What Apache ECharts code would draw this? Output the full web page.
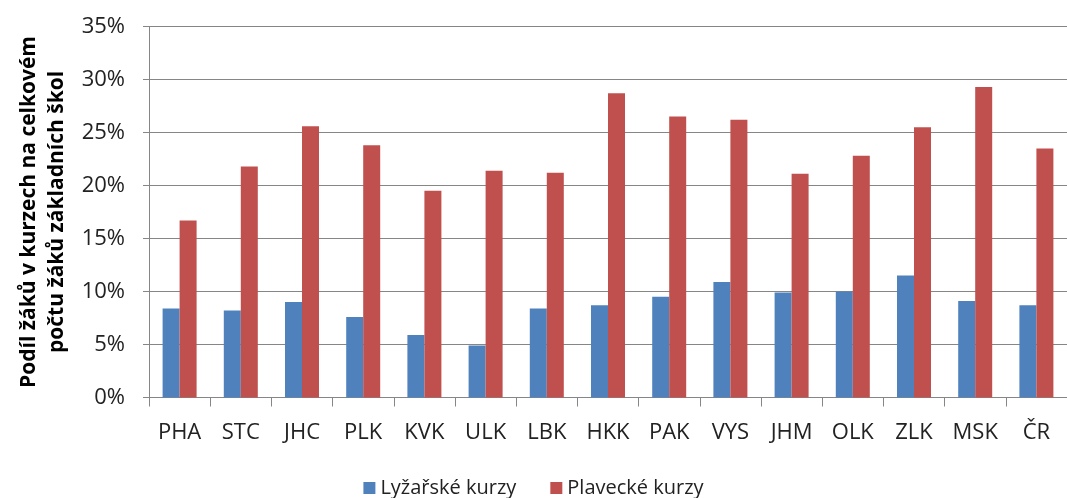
<!DOCTYPE html>
<html>
<head>
<meta charset="utf-8">
<script src="https://cdn.jsdelivr.net/npm/echarts@6/dist/echarts.min.js"></script>
<style>
  html, body { margin: 0; padding: 0; background: #fff; }
  #chart { width: 1067px; height: 498px; }
</style>
</head>
<body>
<div id="chart"></div>
<script>
// kraje + ČR
const regions = ['PHA', 'STC', 'JHC', 'PLK', 'KVK', 'ULK', 'LBK', 'HKK', 'PAK', 'VYS', 'JHM', 'OLK', 'ZLK', 'MSK', 'ČR'];
// podíl žáků v %
const skiCourses = [8.4, 8.2, 9.0, 7.6, 5.9, 4.9, 8.4, 8.7, 9.5, 10.9, 9.9, 10.0, 11.5, 9.1, 8.7];
const swimCourses = [16.7, 21.8, 25.6, 23.8, 19.5, 21.4, 21.2, 28.7, 26.5, 26.2, 21.1, 22.8, 25.5, 29.3, 23.5];
const yTicks = [0, 5, 10, 15, 20, 25, 30, 35];

const font = 'Open Sans';
const gray = '#868686';

const chart = echarts.init(document.getElementById('chart'));
chart.setOption({
  animation: false,
  textStyle: { fontFamily: font },
  grid: { left: 149, top: 26.5, width: 928, height: 371 },
  legend: {
    bottom: -5,
    left: 'center',
    itemWidth: 12,
    itemHeight: 12,
    itemGap: 34,
    icon: 'rect',
    textStyle: { fontSize: 20, color: '#222', fontFamily: font },
    data: ['Lyžařské kurzy', 'Plavecké kurzy']
  },
  xAxis: {
    type: 'category',
    data: regions,
    axisLine: { lineStyle: { color: gray, width: 1 } },
    axisTick: { show: true, length: 9, lineStyle: { color: gray } },
    axisLabel: { fontSize: 22, color: '#222', margin: 24 }
  },
  yAxis: {
    type: 'value',
    min: yTicks[0],
    max: yTicks[yTicks.length - 1],
    interval: 5,
    name: 'Podíl žáků v kurzech na celkovém\npočtu žáků základních škol',
    nameLocation: 'middle',
    nameRotate: 90,
    nameGap: 77,
    nameTextStyle: { fontSize: 21, fontWeight: 'bold', color: '#000', lineHeight: 28, fontFamily: font },
    axisLine: { show: true, lineStyle: { color: gray } },
    axisTick: { show: true, length: 6, lineStyle: { color: gray } },
    axisLabel: { fontSize: 22, color: '#222', margin: 24, formatter: v => v + '%' },
    splitLine: { lineStyle: { color: gray, width: 1 } }
  },
  series: [
    {
      name: 'Lyžařské kurzy',
      type: 'bar',
      data: skiCourses,
      barWidth: 17,
      barGap: '0%',
      itemStyle: { color: '#4F81BD' }
    },
    {
      name: 'Plavecké kurzy',
      type: 'bar',
      data: swimCourses,
      barWidth: 17,
      barGap: '0%',
      itemStyle: { color: '#C0504D' }
    }
  ]
});
</script>
</body>
</html>
